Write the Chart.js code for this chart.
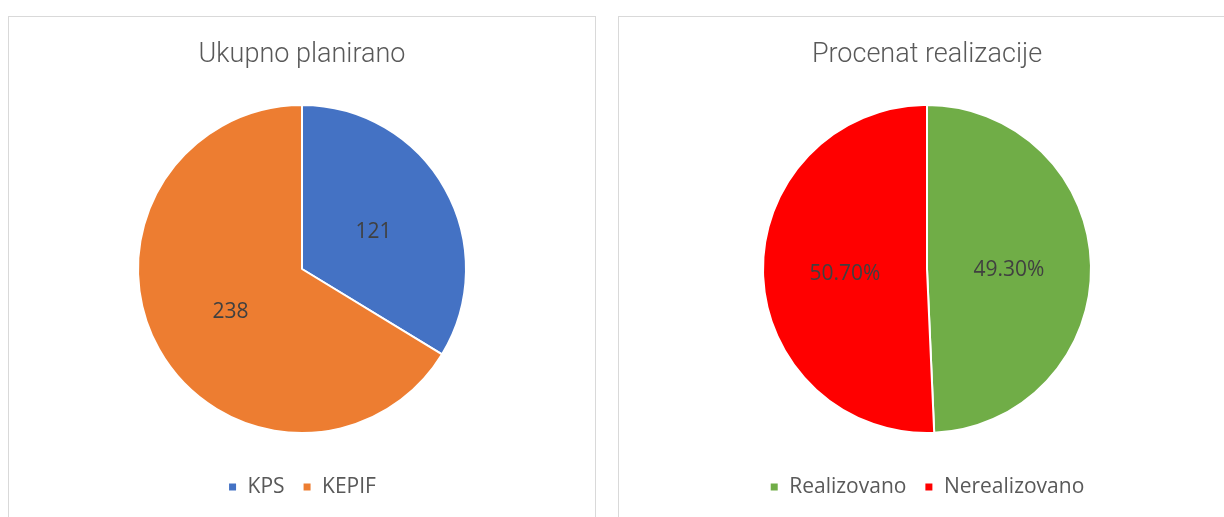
<!DOCTYPE html>
<html>
<head>
<meta charset="utf-8">
<script src="https://cdn.jsdelivr.net/npm/chart.js@4"></script>
<style>
  html, body { margin: 0; padding: 0; background: #fff; overflow: hidden; }
  body { width: 1224px; height: 517px; position: relative; }
  .panel { position: absolute; top: 16px; height: 520px; border: 1px solid #d9d9d9; background: #fff; }
  #p1 { left: 8px; width: 586px; }
  #p2 { left: 618px; width: 616px; }
  .panel canvas { position: absolute; left: 0; top: 0; }
</style>
</head>
<body>
<div class="panel" id="p1"><canvas id="c1" width="586" height="501"></canvas></div>
<div class="panel" id="p2"><canvas id="c2" width="616" height="501"></canvas></div>
<script>
// left chart
const planLabels = ['KPS', 'KEPIF'];
const planValues = [121, 238];
const planColors = ['#4472C4', '#ED7D31'];

// right chart
const realLabels = ['Realizovano', 'Nerealizovano'];
const realValues = [49.30, 50.70];
const realColors = ['#70AD47', '#FF0000'];

// labels at the middle of each slice
const sliceLabels = {
    id: 'sliceLabels',
    afterDatasetsDraw(chart, args, opts) {
        const ctx = chart.ctx;
        const meta = chart.getDatasetMeta(0);
        ctx.save();
        ctx.font = '21px "Open Sans", sans-serif';
        ctx.fillStyle = '#404040';
        ctx.textAlign = 'center';
        ctx.textBaseline = 'middle';
        meta.data.forEach(function (arc, i) {
            const p = arc.getCenterPoint();
            const v = chart.data.datasets[0].data[i];
            ctx.fillText(opts.format(v), p.x, p.y + 3);
        });
        ctx.restore();
    }
};

function makePie(id, title, labels, values, colors, format) {
    return new Chart(document.getElementById(id).getContext('2d'), {
        type: 'pie',
        data: {
            labels: labels,
            datasets: [{
                data: values,
                backgroundColor: colors,
                borderColor: '#ffffff',
                borderWidth: 2,
                radius: 164
            }]
        },
        options: {
            responsive: false,
            animation: false,
            layout: { padding: { top: 0, bottom: 10.5 } },
            plugins: {
                title: {
                    display: true,
                    text: title,
                    color: '#595959',
                    font: { family: 'Roboto', size: 27, weight: 300 },
                    padding: { top: 21.8, bottom: 8.3 }
                },
                legend: {
                    position: 'bottom',
                    labels: {
                        boxWidth: 9,
                        boxHeight: 9,
                        color: '#595959',
                        padding: 18,
                        font: { family: 'Open Sans', size: 21 }
                    }
                },
                tooltip: { enabled: false },
                sliceLabels: { format: format }
            }
        },
        plugins: [sliceLabels]
    });
}

makePie('c1', 'Ukupno planirano', planLabels, planValues, planColors, function (v) { return String(v); });
makePie('c2', 'Procenat realizacije', realLabels, realValues, realColors, function (v) { return v.toFixed(2) + '%'; });
</script>
</body>
</html>
